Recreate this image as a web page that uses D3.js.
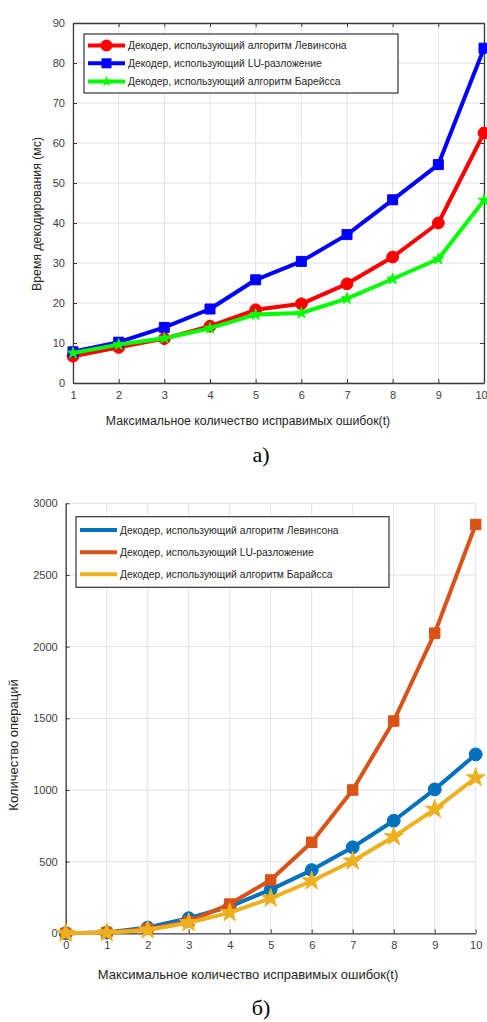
<!DOCTYPE html>
<html>
<head>
<meta charset="utf-8">
<script src="https://cdn.jsdelivr.net/npm/d3@7"></script>
<style>
  body { margin: 0; background: #fff; }
  svg { display: block; font-family: "Liberation Sans", Arial, sans-serif; }
</style>
</head>
<body>
<svg id="chart" width="487" height="1022"></svg>
<script>
// Data
const tTop = [1, 2, 3, 4, 5, 6, 7, 8, 9, 10];
const levinsonTime = [6.7, 8.9, 11.1, 14.2, 18.3, 19.8, 24.8, 31.5, 40.0, 62.5];
const luTime = [7.8, 10.2, 13.9, 18.5, 25.8, 30.4, 37.1, 45.8, 54.6, 83.7];
const bareissTime = [7.5, 9.6, 11.2, 13.7, 17.1, 17.5, 21.1, 26.0, 31.0, 45.7];
const yTicksTop = [0, 10, 20, 30, 40, 50, 60, 70, 80, 90];

const tBottom = [0, 1, 2, 3, 4, 5, 6, 7, 8, 9, 10];
const levinsonOps = [0, 5, 40, 105, 186, 305, 441, 600, 785, 1004, 1248];
const luOps = [0, 5, 30, 81, 204, 372, 635, 1000, 1481, 2094, 2852];
const bareissOps = [0, 3, 23, 74, 144, 244, 365, 504, 674, 865, 1085];
const yTicksBottom = [0, 500, 1000, 1500, 2000, 2500, 3000];

const legendLabels = [
  "Декодер, использующий алгоритм Левинсона",
  "Декодер, использующий LU-разложение",
  "Декодер, использующий алгоритм Барайсса",
];
const legendLabelsTop = [
  "Декодер, использующий алгоритм Левинсона",
  "Декодер, использующий LU-разложение",
  "Декодер, использующий алгоритм Барейсса",
];
const xTitle = "Максимальное количество исправимых ошибок(t)";

const svg = d3.select("#chart");
const axisColor = "#3c3c3c";
const gridColor = "#e3e3e3";

function drawPanel(cfg) {
  const x = d3.scaleLinear().domain(cfg.xDomain).range([cfg.left, cfg.right]);
  const y = d3.scaleLinear().domain(cfg.yDomain).range([cfg.bottom, cfg.top]);
  const g = svg.append("g");

  // grid
  g.append("g")
    .selectAll("line")
    .data(cfg.xTicks)
    .join("line")
    .attr("x1", (d) => x(d)).attr("x2", (d) => x(d))
    .attr("y1", cfg.top).attr("y2", cfg.bottom)
    .attr("stroke", gridColor).attr("stroke-width", 1);
  g.append("g")
    .selectAll("line")
    .data(cfg.yTicks)
    .join("line")
    .attr("x1", cfg.left).attr("x2", cfg.right)
    .attr("y1", (d) => y(d)).attr("y2", (d) => y(d))
    .attr("stroke", gridColor).attr("stroke-width", 1);

  // axes
  const xAxis = g.append("g")
    .attr("transform", `translate(0,${cfg.bottom})`)
    .call(d3.axisBottom(x).tickValues(cfg.xTicks).tickFormat(d3.format("d"))
      .tickSizeInner(-4).tickSizeOuter(0).tickPadding(8));
  const yAxis = g.append("g")
    .attr("transform", `translate(${cfg.left},0)`)
    .call(d3.axisLeft(y).tickValues(cfg.yTicks).tickFormat(d3.format("d"))
      .tickSizeInner(-4).tickSizeOuter(0).tickPadding(8));
  [xAxis, yAxis].forEach((a) => {
    a.select(".domain").attr("stroke", axisColor).attr("stroke-width", 1.3);
    a.selectAll(".tick line").attr("stroke", axisColor);
    a.selectAll(".tick text")
      .attr("fill", "#404040")
      .attr("font-size", cfg.tickFont)
      .attr("font-family", "Liberation Sans, Arial, sans-serif");
  });
  // last x label sits against the page edge
  xAxis.selectAll(".tick text").filter((d) => d === cfg.xDomain[1]).attr("dx", cfg.lastDx);

  if (cfg.box) {
    const xTop = g.append("g")
      .attr("transform", `translate(0,${cfg.top})`)
      .call(d3.axisTop(x).tickValues(cfg.xTicks).tickSizeInner(-4).tickSizeOuter(0).tickFormat(""));
    const yRight = g.append("g")
      .attr("transform", `translate(${cfg.right},0)`)
      .call(d3.axisRight(y).tickValues(cfg.yTicks).tickSizeInner(-4).tickSizeOuter(0).tickFormat(""));
    [xTop, yRight].forEach((a) => {
      a.select(".domain").attr("stroke", axisColor).attr("stroke-width", 1.3);
      a.selectAll(".tick line").attr("stroke", axisColor);
    });
  }

  // series
  cfg.series.forEach((s) => {
    const pts = cfg.xs.map((d, i) => [d, s.values[i]]);
    g.append("path")
      .datum(pts)
      .attr("fill", "none")
      .attr("stroke", s.color)
      .attr("stroke-width", cfg.lineWidth)
      .attr("stroke-linejoin", "round")
      .attr("d", d3.line().x((d) => x(d[0])).y((d) => y(d[1])));
    g.append("g")
      .selectAll("path")
      .data(pts)
      .join("path")
      .attr("transform", (d) => `translate(${x(d[0])},${y(d[1])})`)
      .attr("d", d3.symbol().type(s.symbol).size(s.size))
      .attr("fill", s.color)
      .attr("stroke", s.color)
      .attr("stroke-width", 1);
  });

  // legend
  const lg = g.append("g");
  lg.append("rect")
    .attr("x", cfg.legend.x).attr("y", cfg.legend.y)
    .attr("width", cfg.legend.w).attr("height", cfg.legend.h)
    .attr("fill", "#fff").attr("stroke", "#333").attr("stroke-width", 1.2);
  cfg.series.forEach((s, i) => {
    const ly = cfg.legend.rows[i];
    lg.append("line")
      .attr("x1", cfg.legend.x + 4).attr("x2", cfg.legend.x + 41)
      .attr("y1", ly).attr("y2", ly)
      .attr("stroke", s.color).attr("stroke-width", cfg.lineWidth);
    if (cfg.legend.markers) {
      lg.append("path")
        .attr("transform", `translate(${cfg.legend.x + 22.5},${ly})`)
        .attr("d", d3.symbol().type(s.symbol).size(s.size))
        .attr("fill", s.color);
    }
    lg.append("text")
      .attr("x", cfg.legend.x + 44).attr("y", ly)
      .attr("dy", "0.35em")
      .attr("font-size", 10.3)
      .attr("fill", "#262626")
      .text(cfg.labels[i]);
  });

  // titles
  g.append("text")
    .attr("transform", `translate(${cfg.yTitleX},${cfg.yTitleY}) rotate(-90)`)
    .attr("text-anchor", "middle")
    .attr("font-size", cfg.titleFont)
    .attr("fill", "#262626")
    .text(cfg.yTitle);
  g.append("text")
    .attr("x", 248).attr("y", cfg.xTitleY)
    .attr("text-anchor", "middle")
    .attr("font-size", cfg.titleFont)
    .attr("fill", "#262626")
    .text(xTitle);
  g.append("text")
    .attr("x", 261).attr("y", cfg.captionY)
    .attr("text-anchor", "middle")
    .attr("font-family", "Liberation Serif, Times New Roman, serif")
    .attr("font-size", 22)
    .attr("fill", "#000")
    .text(cfg.caption);
}

drawPanel({
  left: 73, right: 484, top: 23, bottom: 383,
  xDomain: [1, 10], yDomain: [0, 90],
  xs: tTop, xTicks: tTop, yTicks: yTicksTop,
  tickFont: 11, titleFont: 12.3, lineWidth: 4, box: true, lastDx: -3,
  series: [
    { values: levinsonTime, color: "#ff0000", symbol: d3.symbolCircle, size: 110 },
    { values: luTime, color: "#0000ff", symbol: d3.symbolSquare, size: 100 },
    { values: bareissTime, color: "#00ff00", symbol: d3.symbolStar, size: 40 },
  ],
  legend: { x: 84, y: 34, w: 314, h: 59, rows: [45.5, 63.3, 81.5], markers: true },
  labels: legendLabelsTop,
  yTitle: "Время декодирования (мс)", yTitleX: 41, yTitleY: 214,
  xTitleY: 425, caption: "а)", captionY: 462,
});

drawPanel({
  left: 65.7, right: 475.7, top: 503.3, bottom: 933.3,
  xDomain: [0, 10], yDomain: [0, 3000],
  xs: tBottom, xTicks: tBottom, yTicks: yTicksBottom,
  tickFont: 11, titleFont: 13, lineWidth: 4, box: false, lastDx: 0,
  series: [
    { values: levinsonOps, color: "#0072bd", symbol: d3.symbolCircle, size: 130 },
    { values: luOps, color: "#d95319", symbol: d3.symbolSquare, size: 110 },
    { values: bareissOps, color: "#edb120", symbol: d3.symbolStar, size: 110 },
  ],
  legend: { x: 76, y: 516.7, w: 313, h: 70.6, rows: [530, 552.3, 574.3], markers: false },
  labels: legendLabels,
  yTitle: "Количество операций", yTitleX: 18, yTitleY: 745,
  xTitleY: 979, caption: "б)", captionY: 1015,
});
</script>
</body>
</html>
